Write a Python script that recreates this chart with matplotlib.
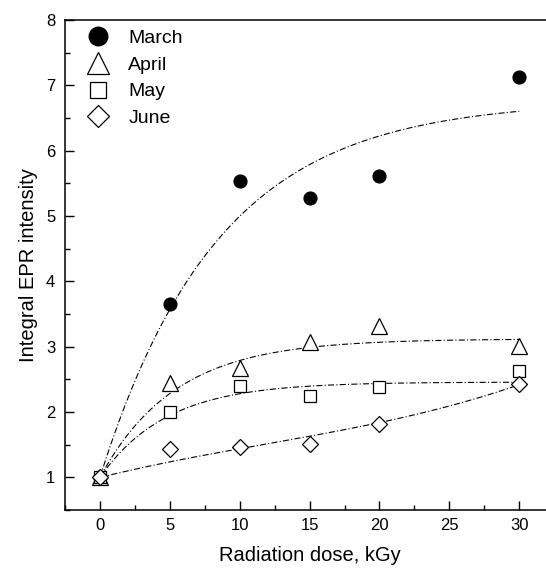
import numpy as np
import matplotlib.pyplot as plt
from matplotlib.ticker import MultipleLocator

# =============================
# DATOS
# =============================
dose = [0, 5, 10, 15, 20, 30]

march = [1.0, 3.65, 5.53, 5.27, 5.62, 7.12]
april = [1.0, 2.44, 2.68, 3.08, 3.31, 3.01]
may = [1.0, 2.00, 2.40, 2.24, 2.39, 2.63]
june = [1.0, 1.44, 1.46, 1.51, 1.82, 2.43]

# parametros de ajuste y = 1 + A(1 - exp(-k x))
fit_march = (5.77, 0.118)
fit_april = (2.12, 0.186)
fit_may = (1.46, 0.21)
# ajuste cubico para junio: y = 1 + b x + c x^2 + d x^3
fit_june = (0.0533, -0.0013, 3.67e-5)

# =============================
# FIGURA
# =============================
plt.rcParams['font.family'] = ['Liberation Sans', 'DejaVu Sans']

fig = plt.figure(figsize=(5.46, 5.70), dpi=100)
ax = fig.add_axes([0.119, 0.105, 0.896, 0.86])

xs = np.linspace(0, 30, 200)
ls = (0, (5.5, 2, 1, 2))


def sat(p):
    A, k = p
    return 1 + A * (1 - np.exp(-k * xs))


b, c, d = fit_june
for curve in [sat(fit_march), sat(fit_april), sat(fit_may),
              1 + b * xs + c * xs**2 + d * xs**3]:
    ax.plot(xs, curve, color='black', lw=0.8, linestyle=ls, zorder=1)

ax.plot(dose, march, 'o', color='black', ms=9.2, label='March', zorder=3)
ax.plot(dose, april, '^', mfc='white', mec='black', mew=0.9, ms=11,
        label='April', zorder=3)
ax.plot(dose, may, 's', mfc='white', mec='black', mew=0.9, ms=8,
        label='May', zorder=3)
ax.plot(dose, june, 'D', mfc='white', mec='black', mew=0.9, ms=7.8,
        label='June', zorder=3)

ax.set_xlim(-2.5, 32.5)
ax.set_ylim(0.5, 8)
ax.set_xticks([0, 5, 10, 15, 20, 25, 30])
ax.set_yticks([1, 2, 3, 4, 5, 6, 7, 8])
ax.xaxis.set_minor_locator(MultipleLocator(2.5))
ax.yaxis.set_minor_locator(MultipleLocator(0.5))
ax.tick_params(which='both', direction='in', top=False, right=False,
               labelsize=12, width=1)
ax.tick_params(which='major', length=6.5)
ax.tick_params(axis='x', which='major', pad=6)
ax.tick_params(axis='y', which='major', pad=7)
ax.tick_params(which='minor', length=3.5)
for s in ax.spines.values():
    s.set_linewidth(1.1)
ax.spines['right'].set_visible(False)

ax.set_xlabel('Radiation dose, kGy', fontsize=14.5, labelpad=9)
ax.set_ylabel('Integral EPR intensity', fontsize=14.5, labelpad=6)

ax.legend(loc='upper left', bbox_to_anchor=(0.012, 0.996), frameon=False,
          fontsize=14, handletextpad=0.55, labelspacing=0.46,
          borderaxespad=0, borderpad=0.4, handlelength=2.0, markerscale=1.45)

fig.savefig('out.png', dpi=100)
